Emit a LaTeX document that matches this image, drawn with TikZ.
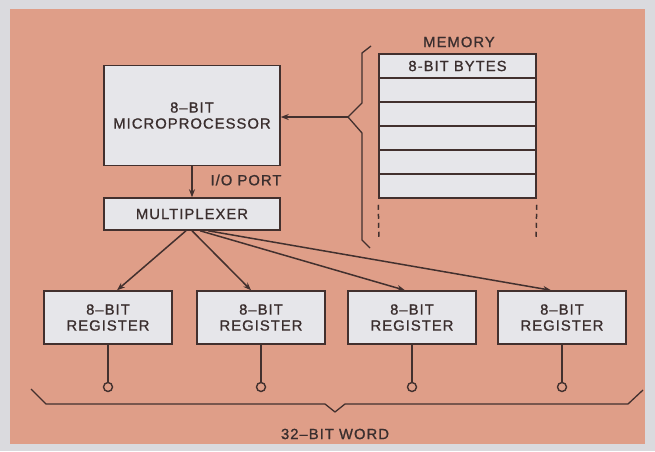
\documentclass[tikz,border=0pt]{standalone}
\usepackage{fontspec}
\newfontfamily\labfont[LetterSpace=7,FakeBold=1.0]{Liberation Sans}
\usetikzlibrary{arrows.meta}
\definecolor{salmon}{HTML}{DF9E88}
\definecolor{frame}{HTML}{DADADE}
\definecolor{boxfill}{HTML}{E6E6EA}
\definecolor{ink}{HTML}{42302E}
\definecolor{txt}{HTML}{3A2E2E}
\tikzset{
  box/.style={draw=ink, line width=1.5pt, fill=boxfill, inner sep=0pt, align=center,
              font=\labfont\fontsize{14.8}{16}\selectfont, text=txt},
  lbl/.style={inner sep=0pt, font=\labfont\fontsize{14.8}{16}\selectfont, text=txt},
  wire/.style={draw=ink, line width=1.5pt},
  arr/.style={wire, -{Stealth[length=8pt,width=6pt]}},
  regbox/.style={box, minimum width=128pt, minimum height=53pt},
  pin/.style={circle, draw=ink, line width=1.4pt, fill=salmon, minimum size=9pt, inner sep=0pt}
}
\begin{document}
\begin{tikzpicture}[x=1pt,y=-1pt]
\useasboundingbox (0,0) rectangle (655,451);
\fill[frame] (0,0) rectangle (655,451);
\fill[salmon] (10,9) rectangle (645,444);

% microprocessor and multiplexer
\node[box, minimum width=176pt, minimum height=100pt] (mp) at (192,115.5)
  {\fontsize{14.8}{20}\selectfont 8–BIT\\MICROPROCESSOR};
\node[box, minimum width=176pt, minimum height=32pt] (mux) at (192,214) {MULTIPLEXER};
\draw[arr] (mp.south) -- (mux.north);
\node[lbl] (io) at (246,180) {I/O PORT};

% memory
\node[lbl] (memlbl) at (459,42) {MEMORY};
\node[box, minimum width=157pt, minimum height=144pt] (mem) at (457.5,126) {};
\node[lbl] (bytes) at (457.5,66) {8-BIT BYTES};
\foreach \yy in {78,102,126,150,174}
  \draw[wire, line width=1.3pt] (mem.west |- 0,\yy) -- (mem.east |- 0,\yy);
\coordinate (dl1) at (379,240);
\coordinate (dl2) at (536,240);
\draw[wire, dash pattern=on 5pt off 4pt] (mem.south west) ++(0,6) -- (dl1);
\draw[wire, dash pattern=on 5pt off 4pt] (mem.south east) ++(0,6) -- (dl2);

% brace left of memory
\coordinate (btip) at (348,117);
\draw[wire, line width=1.3pt, line join=round]
  (371,46) -- (362,53) -- (362,103) -- (btip) -- (362,133) -- (362,240) -- (370,248);
\draw[arr] (btip) -- (mp.east |- btip);

% registers
\foreach \i/\xx in {1/108,2/261,3/412,4/562}{
  \node[regbox] (r\i) at (\xx,317.5) {\fontsize{14.8}{15.5}\selectfont 8–BIT\\REGISTER};
  \node[pin] (p\i) at (\xx,387) {};
  \draw[wire] (r\i.south) -- (p\i.north);
}

% multiplexer fan-out
\draw[arr] ([xshift=-6pt]mux.south) -- ([xshift=9pt]r1.north);
\draw[arr] (mux.south) -- ([xshift=-10pt]r2.north);
\draw[arr] ([xshift=8pt]mux.south) -- ([xshift=-7pt]r3.north);
\draw[arr] ([xshift=16pt]mux.south) -- ([xshift=-11pt]r4.north);

% bottom brace
\draw[wire, line width=1.3pt, line join=round]
  (31,389) -- (46,404) -- (325,404) -- (335,412) -- (345,404) -- (628,404) -- (643,390);
\node[lbl] (word) at (335,434) {32–BIT WORD};
\end{tikzpicture}
\end{document}
